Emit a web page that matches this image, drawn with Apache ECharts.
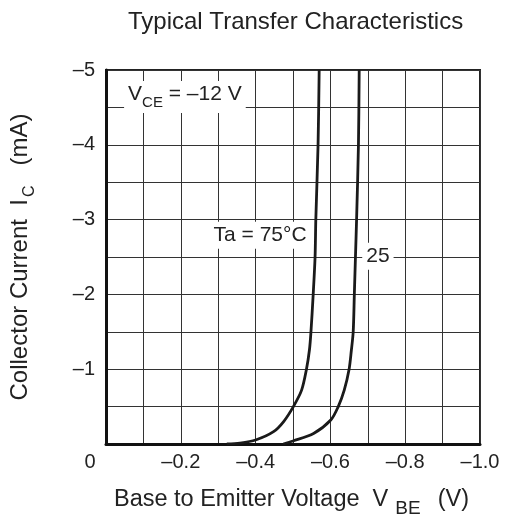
<!DOCTYPE html>
<html><head><meta charset="utf-8">
<script src="https://cdn.jsdelivr.net/npm/echarts@6/dist/echarts.min.js"></script>
<style>html,body{margin:0;padding:0;background:#fff}#c{width:506px;height:528px}</style>
</head><body><div id="c"></div>
<script>
// Ta = 75 °C curve (VBE in V, IC in mA)
const vbe75 = [-0.323, -0.358, -0.40, -0.448, -0.475, -0.501, -0.523, -0.536, -0.544, -0.548, -0.554, -0.559, -0.561, -0.567, -0.570];
const ic75  = [0, -0.012, -0.053, -0.165, -0.30, -0.50, -0.72, -1.0, -1.26, -1.5, -2.0, -2.5, -3.0, -4.0, -5.0];
// Ta = 25 °C curve
const vbe25 = [-0.474, -0.50, -0.555, -0.601, -0.621, -0.637, -0.650, -0.656, -0.661, -0.664, -0.667, -0.670, -0.675, -0.677];
const ic25  = [0, -0.04, -0.14, -0.32, -0.50, -0.72, -1.0, -1.25, -1.5, -2.0, -2.5, -3.0, -4.0, -5.0];
// tick labels
const xTickValues = [-0.2, -0.4, -0.6, -0.8, -1.0];
const xTickLabels = ['–0.2', '–0.4', '–0.6', '–0.8', '–1.0'];
const yTickValues = [-1, -2, -3, -4, -5];
const yTickLabels = ['–1', '–2', '–3', '–4', '–5'];
// annotations (text, anchored at data coordinates)
const annotations = [
  { text: 'Ta = 75°C', v: -0.412, i: -2.79 },
  { text: '25', v: -0.727, i: -2.51 },
  { text: '{m|V}{s|CE}{m| = –12 V}', v: -0.211, i: -4.64 }
];

const FONT = "'Liberation Sans', Arial, Helvetica, sans-serif";
const INK = '#222';
const chart = echarts.init(document.getElementById('c'), null, { renderer: 'canvas' });

function zip(a, b) { return a.map((x, k) => [x, b[k]]); }
function findLabel(vals, labels, v) {
  for (let k = 0; k < vals.length; k++) if (Math.abs(vals[k] - v) < 1e-6) return labels[k];
  return '';
}

chart.setOption({
  animation: false,
  backgroundColor: '#fff',
  title: {
    text: 'Typical Transfer Characteristics',
    left: 123, top: 5,
    textStyle: { fontFamily: FONT, fontSize: 24, fontWeight: 'normal', color: INK }
  },
  grid: { left: 106, right: 26, top: 70, bottom: 84, show: true, borderColor: '#222', borderWidth: 2, backgroundColor: 'transparent' },
  xAxis: {
    type: 'value', min: -1, max: 0, interval: 0.1, inverse: true,
    axisLine: { show: true, onZero: false, lineStyle: { color: '#111', width: 3 } },
    axisTick: { show: false },
    splitLine: { show: true, lineStyle: { color: '#333', width: 1 } },
    axisLabel: {
      margin: 8, color: INK, fontFamily: FONT, fontSize: 20,
      formatter: v => (Math.abs(v) < 1e-9 ? '{z|0}' : findLabel(xTickValues, xTickLabels, v)),
      rich: { z: { fontFamily: FONT, fontSize: 20, color: INK, padding: [0, 32, 0, 0] } }
    },
    name: '{m|Base to Emitter Voltage  V}{s|BE}{e|  (V)}',
    nameLocation: 'middle', nameGap: 44,
    nameTextStyle: {
      rich: {
        m: { fontFamily: FONT, fontSize: 23.5, color: INK, lineHeight: 30, verticalAlign: 'top' },
        s: { fontFamily: FONT, fontSize: 19, color: INK, lineHeight: 30, verticalAlign: 'bottom', padding: [5, 4, 0, 7] },
        e: { fontFamily: FONT, fontSize: 23.5, color: INK, lineHeight: 30, verticalAlign: 'top', padding: [0, 3, 0, 0] }
      }
    }
  },
  yAxis: {
    type: 'value', min: -5, max: 0, interval: 0.5, inverse: true,
    axisLine: { show: true, onZero: false, lineStyle: { color: '#111', width: 3 } },
    axisTick: { show: false },
    splitLine: { show: true, lineStyle: { color: '#333', width: 1 } },
    axisLabel: {
      margin: 11, color: INK, fontFamily: FONT, fontSize: 20,
      formatter: v => findLabel(yTickValues, yTickLabels, v)
    },
    name: '{m|Collector Current  I}{s|C}{m|   (mA)}',
    nameLocation: 'middle', nameGap: 68,
    nameTextStyle: {
      rich: {
        m: { fontFamily: FONT, fontSize: 24, color: INK, lineHeight: 30, verticalAlign: 'top' },
        s: { fontFamily: FONT, fontSize: 16, color: INK, lineHeight: 30, verticalAlign: 'bottom', padding: [8, 0, 0, 2] }
      }
    }
  },
  series: [
    { name: '75', type: 'line', data: zip(vbe75, ic75), showSymbol: false, smooth: 0.3,
      lineStyle: { color: '#1a1a1a', width: 2.8 }, z: 5 },
    { name: '25', type: 'line', data: zip(vbe25, ic25), showSymbol: false, smooth: 0.3,
      lineStyle: { color: '#1a1a1a', width: 2.8 }, z: 5 }
  ]
});

const graphics = annotations.map(a => {
  const p = chart.convertToPixel({ gridIndex: 0 }, [a.v, a.i]);
  return {
    type: 'text', x: p[0], y: p[1], z: 100,
    style: {
      text: a.text, align: 'center', verticalAlign: 'middle',
      fontFamily: FONT, fontSize: 21, fill: INK,
      backgroundColor: '#fff', padding: [3, 4],
      rich: {
        m: { fontFamily: FONT, fontSize: 21, fill: INK, lineHeight: 26, verticalAlign: 'top' },
        s: { fontFamily: FONT, fontSize: 15, fill: INK, lineHeight: 26, verticalAlign: 'bottom', padding: [9, 0, 0, 0] }
      }
    }
  };
});
chart.setOption({ graphic: graphics });
</script>
</body></html>
